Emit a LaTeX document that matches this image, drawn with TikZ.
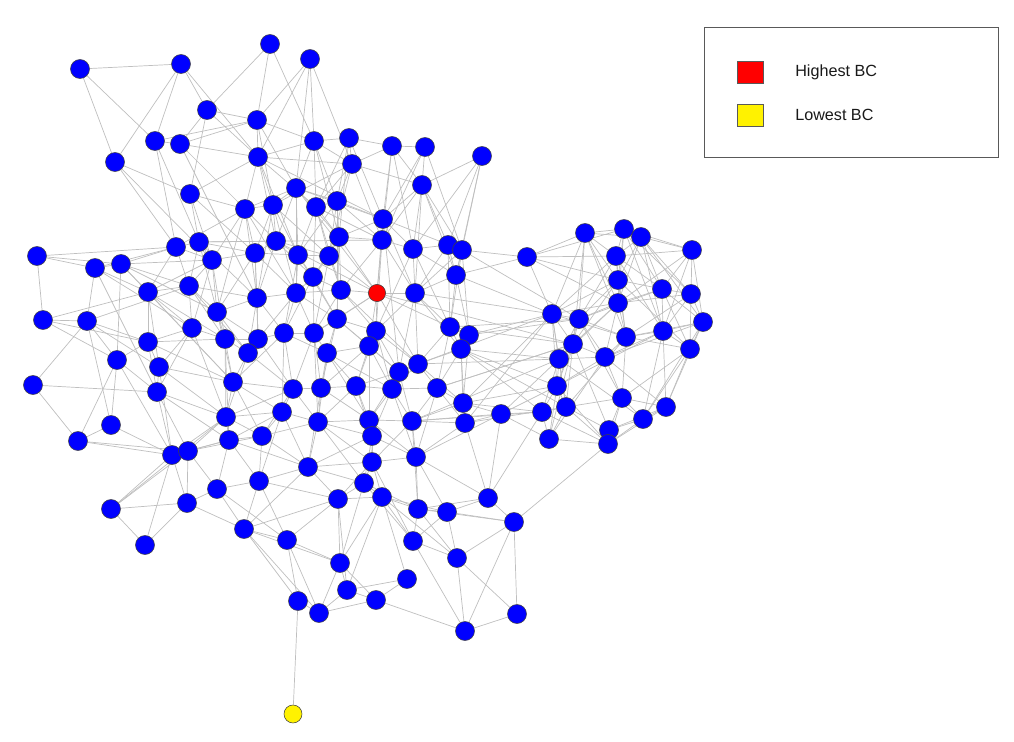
\documentclass[tikz,border=0pt]{standalone}
\usepackage{fontspec}
\setmainfont{Liberation Sans}
\pgfdeclarelayer{bg}
\pgfsetlayers{bg,main}
\begin{document}
\begin{tikzpicture}[x=0.025cm,y=-0.025cm,
  bn/.style={circle,draw=black!75,line width=0.4pt,fill=blue,minimum size=0.475cm,inner sep=0pt},
  rn/.style={bn,fill=red,minimum size=0.43cm},
  yn/.style={bn,fill=yellow,minimum size=0.45cm},
  edge/.style={draw=black!25,line width=0.5pt},
  legbox/.style={draw=black!65,line width=0.6pt,minimum width=7.35cm,minimum height=3.25cm,inner sep=0pt},
  legkey/.style={draw=black!65,line width=0.5pt,minimum width=0.65cm,minimum height=0.55cm,inner sep=0pt},
  legtext/.style={anchor=west,inner sep=0pt,font=\fontsize{11.5}{13}\selectfont,text=black!90}]
\useasboundingbox (0,0) rectangle (1014,742);
% main nodes
\node[bn] (n1) at (270,44) {};
\node[bn] (n2) at (310,59) {};
\node[bn] (n3) at (80,69) {};
\node[bn] (n4) at (181,64) {};
\node[bn] (n5) at (207,110) {};
\node[bn] (n6) at (257,120) {};
\node[bn] (n7) at (155,141) {};
\node[bn] (n8) at (180,144) {};
\node[bn] (n9) at (115,162) {};
\node[bn] (n10) at (314,141) {};
\node[bn] (n11) at (349,138) {};
\node[bn] (n12) at (392,146) {};
\node[bn] (n13) at (425,147) {};
\node[bn] (n14) at (482,156) {};
\node[bn] (n15) at (258,157) {};
\node[bn] (n16) at (352,164) {};
\node[bn] (n17) at (422,185) {};
\node[bn] (n18) at (190,194) {};
\node[bn] (n19) at (296,188) {};
\node[bn] (n20) at (337,201) {};
\node[bn] (n21) at (273,205) {};
\node[bn] (n22) at (245,209) {};
\node[bn] (n23) at (316,207) {};
\node[bn] (n24) at (383,219) {};
\node[bn] (n25) at (176,247) {};
\node[bn] (n26) at (199,242) {};
\node[bn] (n27) at (212,260) {};
\node[bn] (n28) at (255,253) {};
\node[bn] (n29) at (276,241) {};
\node[bn] (n30) at (298,255) {};
\node[bn] (n31) at (329,256) {};
\node[bn] (n32) at (339,237) {};
\node[bn] (n33) at (382,240) {};
\node[bn] (n34) at (413,249) {};
\node[bn] (n35) at (448,245) {};
\node[bn] (n36) at (462,250) {};
\node[bn] (n37) at (527,257) {};
\node[bn] (n38) at (37,256) {};
\node[bn] (n39) at (95,268) {};
\node[bn] (n40) at (121,264) {};
\node[bn] (n41) at (456,275) {};
\node[bn] (n42) at (313,277) {};
\node[bn] (n43) at (148,292) {};
\node[bn] (n44) at (189,286) {};
\node[bn] (n45) at (257,298) {};
\node[bn] (n46) at (296,293) {};
\node[bn] (n47) at (341,290) {};
\node[bn] (n48) at (415,293) {};
\node[bn] (n49) at (43,320) {};
\node[bn] (n50) at (87,321) {};
\node[bn] (n51) at (217,312) {};
\node[bn] (n52) at (192,328) {};
\node[bn] (n53) at (225,339) {};
\node[bn] (n54) at (258,339) {};
\node[bn] (n55) at (248,353) {};
\node[bn] (n56) at (148,342) {};
\node[bn] (n57) at (117,360) {};
\node[bn] (n58) at (159,367) {};
\node[bn] (n59) at (337,319) {};
\node[bn] (n60) at (376,331) {};
\node[bn] (n61) at (369,346) {};
\node[bn] (n62) at (450,327) {};
\node[bn] (n63) at (469,335) {};
\node[bn] (n64) at (461,349) {};
\node[bn] (n65) at (284,333) {};
\node[bn] (n66) at (314,333) {};
\node[bn] (n67) at (327,353) {};
\node[bn] (n68) at (418,364) {};
\node[bn] (n69) at (399,372) {};
\node[bn] (n70) at (33,385) {};
\node[bn] (n71) at (157,392) {};
\node[bn] (n72) at (233,382) {};
\node[bn] (n73) at (293,389) {};
\node[bn] (n74) at (321,388) {};
\node[bn] (n75) at (356,386) {};
\node[bn] (n76) at (392,389) {};
\node[bn] (n77) at (437,388) {};
\node[bn] (n78) at (463,403) {};
\node[bn] (n79) at (465,423) {};
\node[bn] (n80) at (226,417) {};
\node[bn] (n81) at (229,440) {};
\node[bn] (n82) at (262,436) {};
\node[bn] (n83) at (111,425) {};
\node[bn] (n84) at (78,441) {};
\node[bn] (n85) at (282,412) {};
\node[bn] (n86) at (318,422) {};
\node[bn] (n87) at (369,420) {};
\node[bn] (n88) at (372,436) {};
\node[bn] (n89) at (412,421) {};
\node[bn] (n90) at (172,455) {};
\node[bn] (n91) at (188,451) {};
\node[bn] (n92) at (416,457) {};
\node[bn] (n93) at (372,462) {};
\node[bn] (n94) at (308,467) {};
\node[bn] (n95) at (259,481) {};
\node[bn] (n96) at (217,489) {};
\node[bn] (n97) at (187,503) {};
\node[bn] (n98) at (364,483) {};
\node[bn] (n99) at (338,499) {};
\node[bn] (n100) at (382,497) {};
\node[bn] (n101) at (488,498) {};
\node[bn] (n102) at (111,509) {};
\node[bn] (n103) at (145,545) {};
\node[bn] (n104) at (418,509) {};
\node[bn] (n105) at (447,512) {};
\node[bn] (n106) at (514,522) {};
\node[bn] (n107) at (244,529) {};
\node[bn] (n108) at (287,540) {};
\node[bn] (n109) at (413,541) {};
\node[bn] (n110) at (457,558) {};
\node[bn] (n111) at (340,563) {};
\node[bn] (n112) at (407,579) {};
\node[bn] (n113) at (347,590) {};
\node[bn] (n114) at (376,600) {};
\node[bn] (n115) at (298,601) {};
\node[bn] (n116) at (319,613) {};
\node[bn] (n117) at (517,614) {};
\node[bn] (n118) at (465,631) {};
\node[rn] (R) at (377,293) {};
\node[yn] (Y) at (293,714) {};
% right cluster
\node[bn] (r1) at (585,233) {};
\node[bn] (r2) at (624,229) {};
\node[bn] (r3) at (641,237) {};
\node[bn] (r4) at (692,250) {};
\node[bn] (r5) at (616,256) {};
\node[bn] (r6) at (618,280) {};
\node[bn] (r7) at (662,289) {};
\node[bn] (r8) at (691,294) {};
\node[bn] (r9) at (618,303) {};
\node[bn] (r10) at (703,322) {};
\node[bn] (r11) at (552,314) {};
\node[bn] (r12) at (579,319) {};
\node[bn] (r13) at (626,337) {};
\node[bn] (r14) at (663,331) {};
\node[bn] (r15) at (690,349) {};
\node[bn] (r16) at (573,344) {};
\node[bn] (r17) at (559,359) {};
\node[bn] (r18) at (605,357) {};
\node[bn] (r19) at (557,386) {};
\node[bn] (r20) at (622,398) {};
\node[bn] (r21) at (566,407) {};
\node[bn] (r22) at (542,412) {};
\node[bn] (r23) at (666,407) {};
\node[bn] (r24) at (501,414) {};
\node[bn] (r25) at (643,419) {};
\node[bn] (r26) at (549,439) {};
\node[bn] (r27) at (609,430) {};
\node[bn] (r28) at (608,444) {};
% edges
\begin{pgfonlayer}{bg}
\foreach \a/\b in {n3/n4, n3/n9, n3/n7, n4/n9, n4/n7, n4/n5, n4/n15, n5/n1, n5/n6, n5/n18, n5/n8, n7/n8, n7/n6, n7/n25, n7/n26, n8/n15, n8/n22, n9/n18, n9/n25, n18/n15, n18/n22, n18/n26, n18/n28, n6/n1, n6/n2, n6/n10, n6/n15, n6/n19, n2/n10, n2/n15, n1/n10, n10/n11, n10/n15, n10/n19, n10/n23, n10/n16, n11/n12, n11/n16, n11/n24, n11/n20, n12/n13, n12/n16, n12/n17, n13/n17, n13/n33, n14/n17, n14/n36, n14/n35, n16/n15, n16/n21, n16/n17, n16/n20, n17/n35, n17/n36, n17/n34, n17/n24, n17/n41, n15/n23, n15/n24, n15/n21, n15/n29}
  \draw[edge] (\a) -- (\b);
\foreach \a/\b in {n19/n21, n19/n22, n19/n20, n19/n24, n19/n30, n19/n46, n20/n23, n20/n24, n20/n32, n20/n31, n20/n33, n21/n22, n21/n29, n21/n28, n21/n31, n22/n25, n22/n27, n22/n29, n22/n45, n23/n30, n23/n32, n23/n42, n23/n33, n24/n33, n24/n34, n24/n36, n24/n32, n24/n48, n24/R, n25/n26, n25/n27, n25/n40, n25/n39, n25/n43, n25/n44, n26/n28, n26/n27, n26/n29, n26/n33, n26/n44, n27/n43, n27/n44, n27/n51, n27/n28, n28/n29, n28/n30, n28/n45, n28/n46, n29/n30, n29/n31, n29/n42, n30/n31, n30/n42, n30/n46, n31/n32, n31/n47, n31/n42, n32/n33, n32/R, n32/n47, n33/n34, n33/R, n33/n48, n34/n35, n34/n48, n34/n41, n35/n36, n35/n41, n36/n37, n36/n41, n36/n62, n41/n48, n41/n62, n41/n37, n42/n46, n42/n47, n42/n59, n46/n47, n47/R, R/n48, R/n59, R/n60, R/n61, R/n66, R/n68, n48/n60, n48/n62, n48/n68}
  \draw[edge] (\a) -- (\b);
\foreach \a/\b in {n38/n39, n38/n40, n38/n49, n38/n25, n39/n40, n39/n50, n39/n43, n40/n43, n40/n44, n40/n57, n40/n27, n49/n50, n49/n43, n49/n57, n50/n57, n50/n58, n50/n83, n43/n44, n43/n56, n43/n52, n43/n58, n44/n52, n44/n51, n44/n45, n52/n56, n52/n53, n52/n58, n52/n71, n51/n53, n51/n45, n51/n54, n51/n55, n53/n54, n53/n55, n53/n72, n53/n80, n54/n55, n54/n65, n54/n45, n55/n72, n55/n73, n56/n57, n56/n58, n56/n71, n57/n83, n57/n84, n58/n71, n58/n72, n58/n90, n70/n84, n70/n50, n70/n71, n83/n84, n83/n90, n84/n90, n84/n91, n71/n90, n71/n80, n71/n91, n72/n80, n72/n73, n72/n85}
  \draw[edge] (\a) -- (\b);
\foreach \a/\b in {n45/n46, n45/n54, n45/n65, n46/n65, n46/n66, n46/n59, n59/n66, n59/n61, n59/n60, n59/n67, n60/n61, n60/n69, n60/n76, n61/n67, n61/n75, n61/n69, n62/n63, n62/n64, n62/n68, n63/n64, n64/n68, n64/n77, n64/n78, n65/n66, n65/n73, n65/n67, n66/n67, n66/n74, n67/n74, n67/n75, n68/n69, n68/n77, n68/n76, n69/n76, n69/n75, n73/n74, n73/n85, n73/n86, n74/n75, n74/n86, n75/n76, n75/n87, n76/n77, n76/n89, n76/n87, n77/n78, n77/n79, n77/n89, n78/n79, n79/n89, n79/n92, n80/n81, n80/n82, n80/n85, n81/n82, n81/n90, n81/n91, n81/n95, n82/n85, n82/n86, n82/n94, n85/n86, n85/n94, n86/n87, n86/n88, n86/n93, n87/n88, n87/n89, n88/n93, n88/n92, n89/n92, n90/n91, n90/n102, n91/n96, n91/n97, n92/n93, n92/n104, n92/n101, n93/n98, n93/n94, n94/n95, n94/n98, n95/n96, n95/n107, n95/n99, n96/n97, n96/n107, n97/n102, n97/n103, n97/n107, n98/n99, n98/n100, n99/n100, n99/n111, n100/n104, n100/n109, n100/n111, n104/n105, n104/n109, n101/n104, n101/n105, n101/n106, n105/n106, n105/n109, n106/n110, n106/n117, n106/n118, n106/r28, n107/n108, n107/n115, n107/n111, n108/n115, n108/n116, n108/n111, n109/n110, n109/n118, n110/n118, n110/n117, n111/n113, n111/n114, n112/n113, n112/n114, n112/n100, n113/n116, n113/n114, n114/n116, n114/n118, n115/n116, n115/Y, n117/n118, n102/n103, n101/n79}
  \draw[edge] (\a) -- (\b);
\foreach \a/\b in {n9/n27, n8/n45, n22/n51, n15/n30, n19/R, n10/n32, n12/n33, n16/n31, n29/R, n47/n68, R/n62, n41/n63, n20/n59, n23/n47, n32/n59, n31/n66, n30/n65, n42/n66, n21/n45, n28/n54, n27/n53, n26/n51, n44/n53, n47/n60, n33/n60, n34/n62, n35/n62, n36/n63, n48/n64, n48/n69, n59/n74, n60/n75, n61/n76, n65/n85, n66/n86, n67/n87, n73/n82, n74/n94, n75/n88, n76/n92, n69/n89, n68/n78, n55/n80, n54/n73, n53/n81, n72/n82, n80/n91, n85/n95, n86/n98, n87/n93, n88/n98, n89/n104, n92/n105, n93/n100, n94/n99, n82/n95, n81/n96, n91/n102, n90/n97, n98/n111, n100/n113, n99/n113, n104/n110, n24/n69, n17/n48, n13/n36, n14/n41, n12/n34, n11/n32, n10/n20, n16/n23, n19/n29, n21/n30, n22/n28, n18/n27, n15/n22, n6/n21, n6/n8, n5/n15, n2/n19, n43/n72, n56/n53, n57/n71, n39/n52, n40/n51, n49/n56, n50/n56}
  \draw[edge] (\a) -- (\b);
\foreach \a/\b in {n2/n16, n11/n23, n12/n24, n13/n24, n14/n34, n16/n33, n17/n33, n19/n32, n20/n30, n21/n46, n22/n46, n23/n31, n26/n45, n27/n52, n28/n51, n29/n45, n30/n59, n31/R, n32/n42, n33/n47, n34/n60, n35/n48, n36/n48, n42/n65, n46/n54, n47/n66, n59/n69, n60/n68, n61/n74, n61/n87, n62/n77, n63/n78, n64/n79, n65/n72, n66/n73, n67/n86, n67/n76, n69/n87, n73/n80, n74/n87, n75/n86, n76/n88, n77/n92, n78/n89, n80/n90, n81/n94, n82/n91, n85/n81, n86/n94, n87/n92, n88/n94, n89/n93, n93/n99, n94/n107, n95/n108, n96/n108, n98/n104, n99/n108, n100/n105, n104/n106, n45/n55, n51/n72, n44/n55, n52/n80, n58/n80, n71/n81, n43/n53, n56/n72, n50/n44, n39/n71, n40/n72, n102/n80, n90/n103, n57/n90, n98/n109, n111/n116, n107/n116, n110/n105, n99/n107, n93/n109, n100/n110}
  \draw[edge] (\a) -- (\b);
\foreach \a/\b in {n37/r1, n37/r5, n37/r11, n37/r9, n37/r6, n37/r2, r1/r2, r1/r3, r1/r5, r1/r12, r1/r13, r1/r11, r2/r3, r2/r4, r2/r7, r2/r5, r2/r14, r3/r4, r3/r7, r3/r8, r3/r10, r3/r6, r4/r8, r4/r10, r4/r7, r4/r9, r4/r5, r5/r6, r5/r12, r5/r14, r6/r9, r6/r7, r6/r16, r6/r15, r7/r8, r7/r14, r7/r10, r7/r12, r8/r10, r8/r15, r8/r13, r9/r11, r9/r13, r9/r17, r9/r8, r10/r15, r10/r14, r10/r18, r11/r12, r11/r16, r11/r19, r11/r13, r12/r16, r12/r18, r12/r20, r13/r14, r13/r18, r13/r21, r14/r15, r14/r23, r14/r19, r15/r23, r15/r25, r16/r17, r16/r21, r16/r27, r17/r19, r17/r22, r17/r25, r18/r20, r18/r19, r18/r26, r19/r21, r19/r22, r19/r28, r20/r21, r20/r23, r20/r27, r21/r22, r21/r26, r21/r28, r22/r24, r22/r26, r23/r25, r23/r27, r23/r10, r24/r26, r24/r19, r25/r27, r25/r28, r26/r28, r27/r28, r24/r17}
  \draw[edge] (\a) -- (\b);
\foreach \a/\b in {r1/r6, r1/r9, r2/r6, r2/r8, r3/r5, r3/r9, r3/r14, r4/r14, r5/r7, r5/r11, r5/r13, r6/r12, r6/r13, r7/r9, r7/r15, r8/r14, r9/r12, r9/r18, r10/r13, r11/r17, r12/r17, r12/r13, r13/r15, r13/r20, r14/r18, r15/r20, r16/r18, r16/r19, r17/r18, r18/r23, r19/r26, r20/r25, r20/r28, r21/r27, r22/r28, r23/r28, r16/r26, r11/r21, r14/r25, r10/r25, r17/r21, r12/r19, r9/r16, r6/r11, r2/r9, r1/r16}
  \draw[edge] (\a) -- (\b);
\foreach \a/\b in {n63/r11, n63/r12, n62/r16, n64/r17, n64/r19, n68/r11, n77/r16, n78/r22, n78/r24, n79/r24, n79/r21, n89/r22, n41/r11, n36/r12, R/r16, n68/r17, n48/r11, n62/r12, n64/r22, n64/r21, r11/n78, r11/n79, r16/n77, r17/n89, r19/n78, r24/n89, r24/n92, r24/n101, r22/n101}
  \draw[edge] (\a) -- (\b);
\end{pgfonlayer}
% legend
\node[legbox] (legend) at (851,92) {};
\node[legkey,fill=red] (khigh) at (750,72) {};
\node[legkey,fill=yellow] (klow) at (750,115) {};
\node[legtext] (thigh) at (795,72) {Highest BC};
\node[legtext] (tlow) at (795,115) {Lowest BC};
\end{tikzpicture}
\end{document}
